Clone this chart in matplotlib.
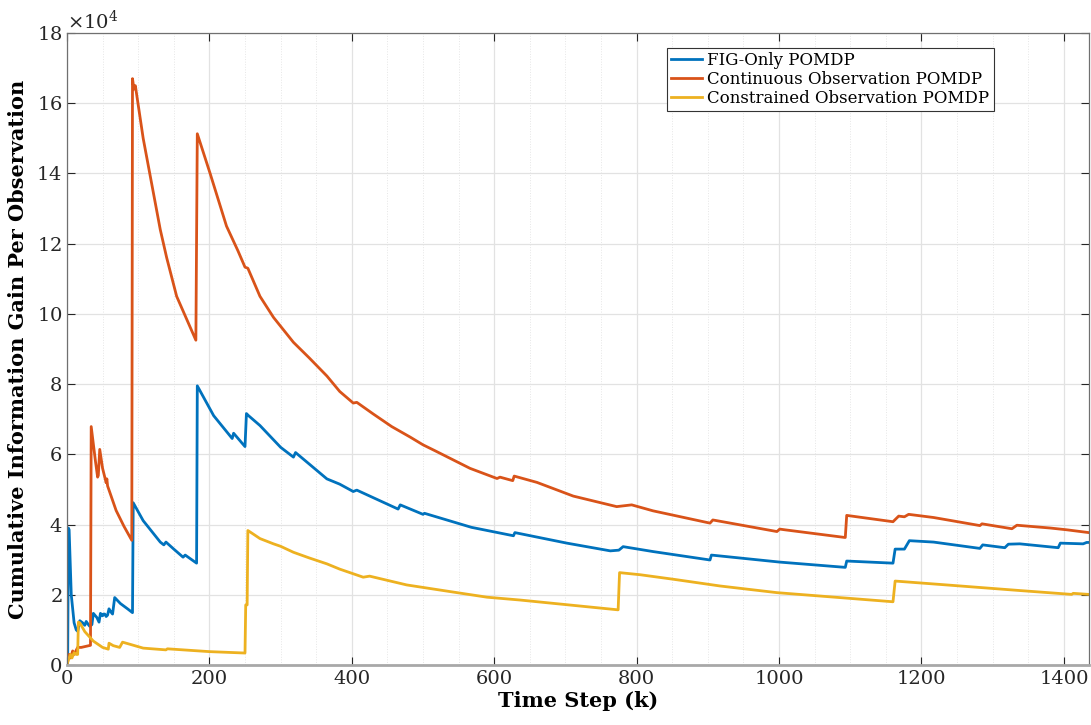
import matplotlib

matplotlib.use("Agg")

import matplotlib.pyplot as plt
from matplotlib.ticker import MultipleLocator

# values (y in units of 1e4)
fig_only_k = [0, 1, 2, 3, 6, 10, 13, 15, 18, 22, 25, 27, 30, 32, 35, 37, 42, 45, 47,
              50, 51, 53, 55, 57, 59, 62, 64, 67, 75, 85, 92, 93, 107, 131, 136, 139,
              150, 163, 166, 182, 183, 206, 232, 234, 250, 252, 255, 271, 300, 318,
              321, 365, 383, 402, 407, 465, 468, 500, 502, 568, 627, 629, 702, 763,
              775, 781, 823, 903, 905, 1001, 1093, 1095, 1160, 1163, 1176, 1183,
              1217, 1282, 1286, 1317, 1322, 1338, 1392, 1395, 1427, 1432, 1435]
fig_only_gain = [0.0, 0.3, 3.9, 3.85, 2.0, 1.2, 1.0, 0.96, 1.26, 1.2, 1.13, 1.24,
                 1.15, 1.1, 1.15, 1.47, 1.35, 1.22, 1.47, 1.4, 1.45, 1.45, 1.38,
                 1.42, 1.6, 1.5, 1.45, 1.92, 1.75, 1.6, 1.49, 4.62, 4.11, 3.5,
                 3.42, 3.5, 3.3, 3.07, 3.13, 2.9, 7.95, 7.1, 6.45, 6.6, 6.22, 7.16,
                 7.1, 6.82, 6.2, 5.92, 6.05, 5.3, 5.15, 4.94, 4.98, 4.44, 4.56, 4.29,
                 4.32, 3.92, 3.68, 3.77, 3.47, 3.25, 3.27, 3.37, 3.23, 2.99, 3.13,
                 2.93, 2.78, 2.96, 2.9, 3.3, 3.3, 3.54, 3.5, 3.32, 3.42, 3.34, 3.44,
                 3.45, 3.34, 3.47, 3.45, 3.49, 3.49]

continuous_k = [0, 3, 5, 8, 10, 15, 20, 33, 34, 40, 43, 44, 46, 50, 55, 56, 57, 69,
                80, 91, 92, 94, 96, 107, 131, 140, 154, 181, 183, 201, 224, 240, 250,
                254, 271, 290, 318, 340, 365, 383, 402, 407, 430, 456, 482, 500, 517,
                566, 604, 608, 626, 628, 660, 711, 772, 793, 823, 903, 907, 997,
                1001, 1008, 1093, 1095, 1160, 1168, 1176, 1182, 1217, 1282, 1285,
                1327, 1334, 1381, 1404, 1435]
continuous_gain = [0.0, 0.3, 0.2, 0.4, 0.3, 0.5, 0.5, 0.56, 6.79, 5.8, 5.35, 5.4,
                   6.14, 5.6, 5.19, 5.3, 5.1, 4.4, 3.95, 3.55, 16.7, 16.4, 16.5,
                   15.0, 12.4, 11.6, 10.5, 9.25, 15.13, 14.0, 12.5, 11.8, 11.33,
                   11.3, 10.5, 9.9, 9.19, 8.75, 8.23, 7.79, 7.46, 7.48, 7.15, 6.79,
                   6.49, 6.27, 6.1, 5.6, 5.31, 5.35, 5.25, 5.38, 5.2, 4.81, 4.51,
                   4.56, 4.39, 4.04, 4.13, 3.8, 3.87, 3.85, 3.63, 4.26, 4.08, 4.24,
                   4.22, 4.29, 4.2, 3.97, 4.02, 3.88, 3.98, 3.9, 3.85, 3.77]

constrained_k = [0, 2, 5, 7, 10, 13, 15, 16, 18, 25, 37, 50, 58, 59, 65, 74, 78, 90,
                 107, 139, 141, 200, 250, 251, 253, 254, 260, 271, 290, 300, 318, 340,
                 365, 383, 416, 425, 477, 538, 590, 636, 774, 776, 805, 852, 917, 997,
                 1160, 1163, 1235, 1338, 1411, 1413, 1435]
constrained_gain = [0.0, 0.15, 0.3, 0.2, 0.35, 0.3, 0.3, 1.22, 1.2, 0.95, 0.68, 0.5,
                    0.45, 0.62, 0.55, 0.5, 0.65, 0.58, 0.48, 0.43, 0.46, 0.38, 0.34,
                    1.71, 1.71, 3.83, 3.75, 3.6, 3.45, 3.38, 3.21, 3.05, 2.88, 2.73,
                    2.5, 2.53, 2.28, 2.09, 1.93, 1.85, 1.57, 2.63, 2.57, 2.44, 2.25,
                    2.06, 1.8, 2.39, 2.28, 2.12, 2.01, 2.04, 2.01]

labels = ["FIG-Only POMDP", "Continuous Observation POMDP",
          "Constrained Observation POMDP"]
colors = ["#0072BD", "#D95319", "#EDB120"]

plt.rcParams["font.family"] = ["DejaVu Serif"]
plt.rcParams["mathtext.fontset"] = "dejavuserif"

fig = plt.figure(figsize=(10.91, 7.25), dpi=100)
ax = fig.add_axes([0.0614, 0.0828, 0.9366, 0.8717])

series = [(fig_only_k, fig_only_gain), (continuous_k, continuous_gain),
          (constrained_k, constrained_gain)]
for (k, g), lab, c in zip(series, labels, colors):
    ax.plot(k, [v * 1e4 for v in g], color=c, linewidth=2.0, label=lab)

ax.set_xlim(0, 1435)
ax.set_ylim(0, 18e4)
ax.xaxis.set_major_locator(MultipleLocator(200))
ax.xaxis.set_minor_locator(MultipleLocator(50))
ax.yaxis.set_major_locator(MultipleLocator(2e4))
ax.ticklabel_format(axis="y", style="sci", scilimits=(4, 4), useMathText=True)
ax.yaxis.get_offset_text().set_fontsize(14)

ax.grid(True, which="major", color="#e2e2e2", linewidth=0.9)
ax.grid(True, which="minor", axis="x", color="#e6e6e6", linewidth=0.7, linestyle=":")
ax.set_axisbelow(True)

ax.tick_params(which="both", direction="in", top=True, right=True,
               labelsize=14, colors="#262626", length=6)
ax.tick_params(which="minor", length=0)
for s in ax.spines.values():
    s.set_color("#707070")
    s.set_linewidth(0.9)
ax.spines["bottom"].set_color("#a8a8a8")
ax.spines["bottom"].set_linewidth(2)

ax.set_xlabel("Time Step (k)", fontsize=15, fontweight="bold", labelpad=2)
ax.set_ylabel("Cumulative Information Gain Per Observation", fontsize=15,
              fontweight="bold", labelpad=6)

leg = ax.legend(loc="upper right", bbox_to_anchor=(0.907, 0.977), fontsize=12,
                fancybox=False, edgecolor="#333333", framealpha=1,
                handlelength=1.9, handletextpad=0.3, labelspacing=0.12,
                borderpad=0.25, borderaxespad=0)
leg.get_frame().set_linewidth(0.8)

fig.savefig("out.png", dpi=100)
